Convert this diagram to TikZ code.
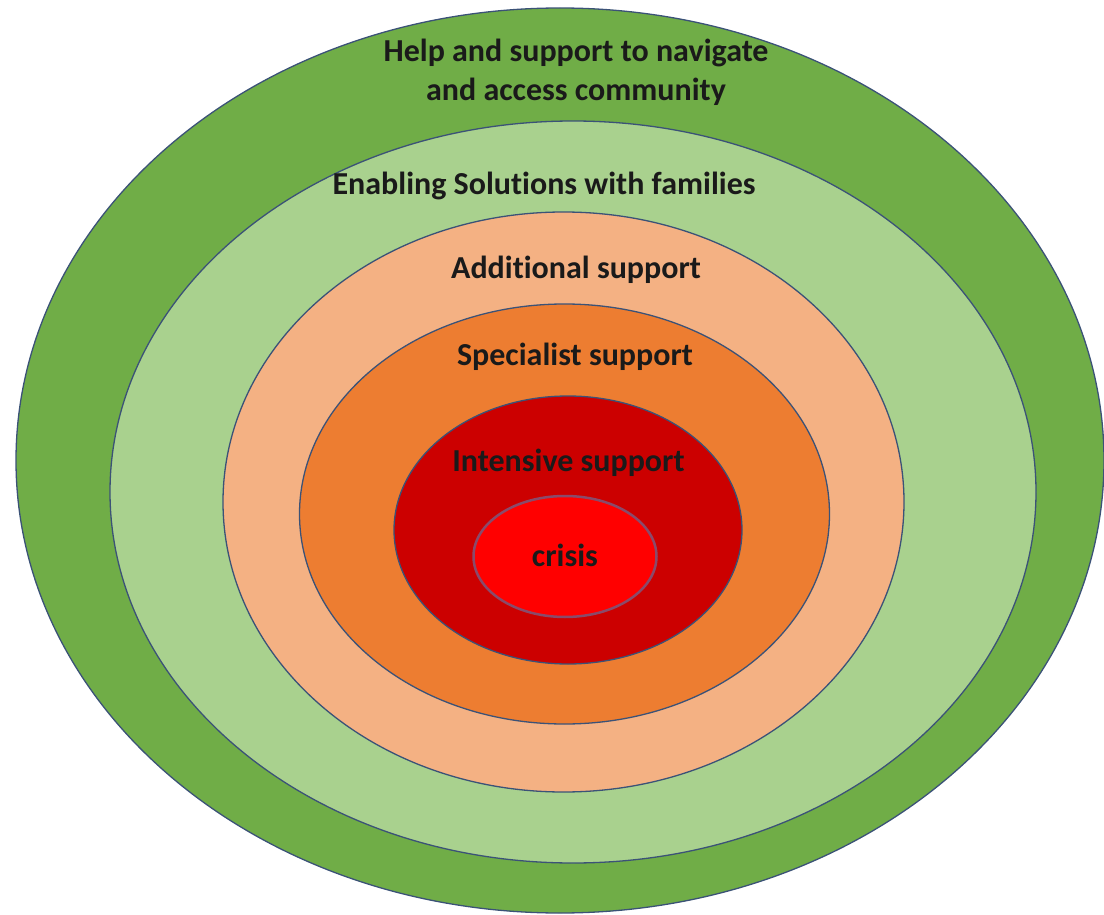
\documentclass[tikz,border=0pt]{standalone}
\usepackage{fontspec}
\setmainfont{Carlito}[Ligatures=NoCommon]
\definecolor{darkgreen}{HTML}{70AD47}
\definecolor{lightgreen}{HTML}{A9D18E}
\definecolor{lightorange}{HTML}{F4B183}
\definecolor{midorange}{HTML}{ED7D31}
\definecolor{darkred}{HTML}{CC0000}
\definecolor{crisisred}{HTML}{FF0000}
\definecolor{ringline}{HTML}{3B5277}
\definecolor{crisisline}{HTML}{8A4A6A}
\definecolor{labeltext}{HTML}{1A1A1A}
\begin{document}
\begin{tikzpicture}[x=1pt,y=-1pt,
  ring/.style={draw=ringline,line width=1.3pt},
  lbl/.style={font=\bfseries\fontsize{32}{40}\selectfont,text=labeltext,align=center,inner sep=0pt}]
\useasboundingbox (0,0) rectangle (1104,915);
\filldraw[ring,fill=darkgreen] (560,460.5) ellipse (544pt and 452.5pt);
\filldraw[ring,fill=lightgreen] (573,492) ellipse (463pt and 371pt);
\filldraw[ring,fill=lightorange] (563.5,502) ellipse (340.5pt and 290pt);
\filldraw[ring,fill=midorange] (564.5,514) ellipse (265pt and 210pt);
\filldraw[ring,fill=darkred] (568,530) ellipse (174pt and 134pt);
\filldraw[draw=crisisline,line width=2.5pt,fill=crisisred] (565,556.5) ellipse (91.5pt and 60.5pt);
\path (576,62) node[lbl,anchor=base] (navigate) {Help and support to navigate};
\path (576,101) node[lbl,anchor=base] (community) {and access community};
\path (544,195) node[lbl,anchor=base] (enabling) {Enabling Solutions with families};
\path (576,278) node[lbl,anchor=base] (additional) {Additional support};
\path (575,365) node[lbl,anchor=base] (specialist) {Specialist support};
\path (568.5,471) node[lbl,anchor=base] (intensive) {Intensive support};
\path (565,566) node[lbl,anchor=base] (crisis) {crisis};
\end{tikzpicture}
\end{document}
